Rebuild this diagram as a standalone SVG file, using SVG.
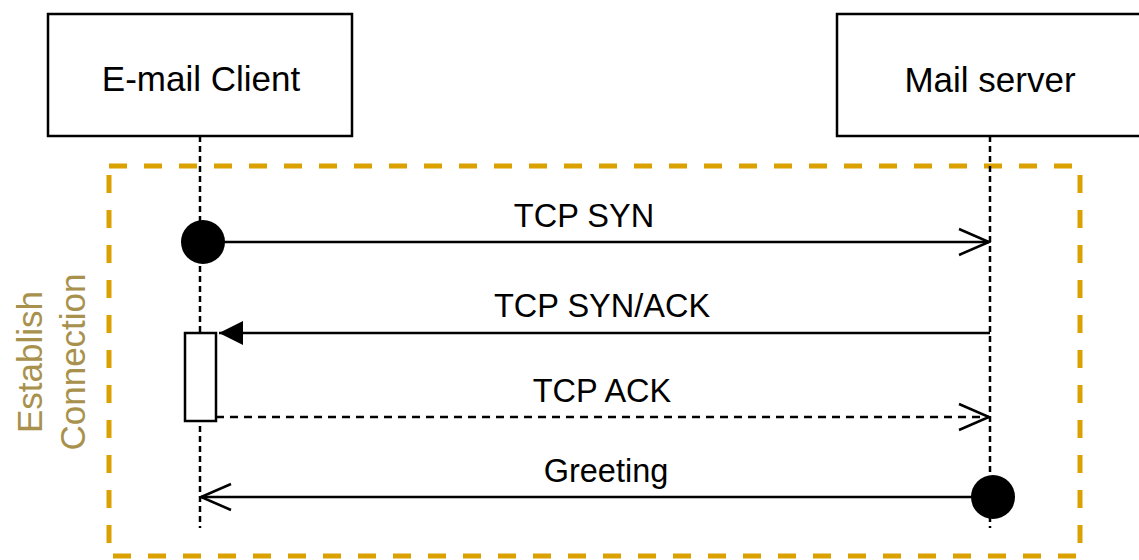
<svg xmlns="http://www.w3.org/2000/svg" width="1139" height="560" viewBox="0 0 1139 560">
<style>
.box{fill:#fff;stroke:#000;stroke-width:2.5}
.life{stroke:#000;stroke-width:2.5;stroke-dasharray:6 4;fill:none}
.msg{stroke:#000;stroke-width:2.5;fill:none}
.dash{stroke-dasharray:8 6}
.t{font-family:"Liberation Sans",Arial,sans-serif;fill:#000;text-anchor:middle}
.node{font-size:35px}
.lbl{font-size:32.5px}
.grp{fill:none;stroke:#dba100;stroke-width:5;stroke-dasharray:18 17}
.gt{font-family:"Liberation Sans",Arial,sans-serif;font-size:35px;fill:#a8914d;text-anchor:middle}
</style>
<defs>
<marker id="open" viewBox="0 0 34 30" refX="32" refY="15" markerWidth="34" markerHeight="30" markerUnits="userSpaceOnUse" orient="auto">
<path d="M2,2 L32,15 L2,28" fill="none" stroke="#000" stroke-width="2.5"/>
</marker>
<marker id="filled" viewBox="0 0 24 26" refX="24" refY="13" markerWidth="24" markerHeight="26" markerUnits="userSpaceOnUse" orient="auto">
<path d="M0,1 L24,13 L0,25 Z" fill="#000"/>
</marker>
</defs>
<g id="group-establish">
<rect class="grp" x="109" y="166" width="971" height="390"/>
<text class="gt" transform="translate(42,362) rotate(-90)" x="0" y="0">Establish</text>
<text class="gt" transform="translate(85,362) rotate(-90)" x="0" y="0">Connection</text>
</g>
<g id="lifelines">
<line class="life" x1="200" y1="136" x2="200" y2="528"/>
<line class="life" x1="990" y1="136" x2="990" y2="528"/>
</g>
<g id="node-client">
<rect class="box" x="48" y="14" width="304" height="122"/>
<text class="t node" x="201" y="91">E-mail Client</text>
</g>
<g id="node-server">
<rect class="box" x="837" y="14" width="304" height="122"/>
<text class="t node" x="990" y="92">Mail server</text>
</g>
<g id="activation">
<rect class="box" x="185" y="333" width="31" height="88"/>
</g>
<g id="connectors">
<circle cx="203" cy="242" r="22" fill="#000"/>
<line class="msg" x1="203" y1="242" x2="989" y2="242" marker-end="url(#open)"/>
<text class="t lbl" x="584" y="227">TCP SYN</text>
<line class="msg" x1="990" y1="333" x2="219" y2="333" marker-end="url(#filled)"/>
<text class="t lbl" x="602" y="317">TCP SYN/ACK</text>
<line class="msg dash" x1="216" y1="417" x2="989" y2="417" marker-end="url(#open)"/>
<text class="t lbl" x="602" y="402">TCP ACK</text>
<circle cx="993" cy="497" r="22" fill="#000"/>
<line class="msg" x1="993" y1="497" x2="201" y2="497" marker-end="url(#open)"/>
<text class="t lbl" x="606" y="482">Greeting</text>
</g>
</svg>
